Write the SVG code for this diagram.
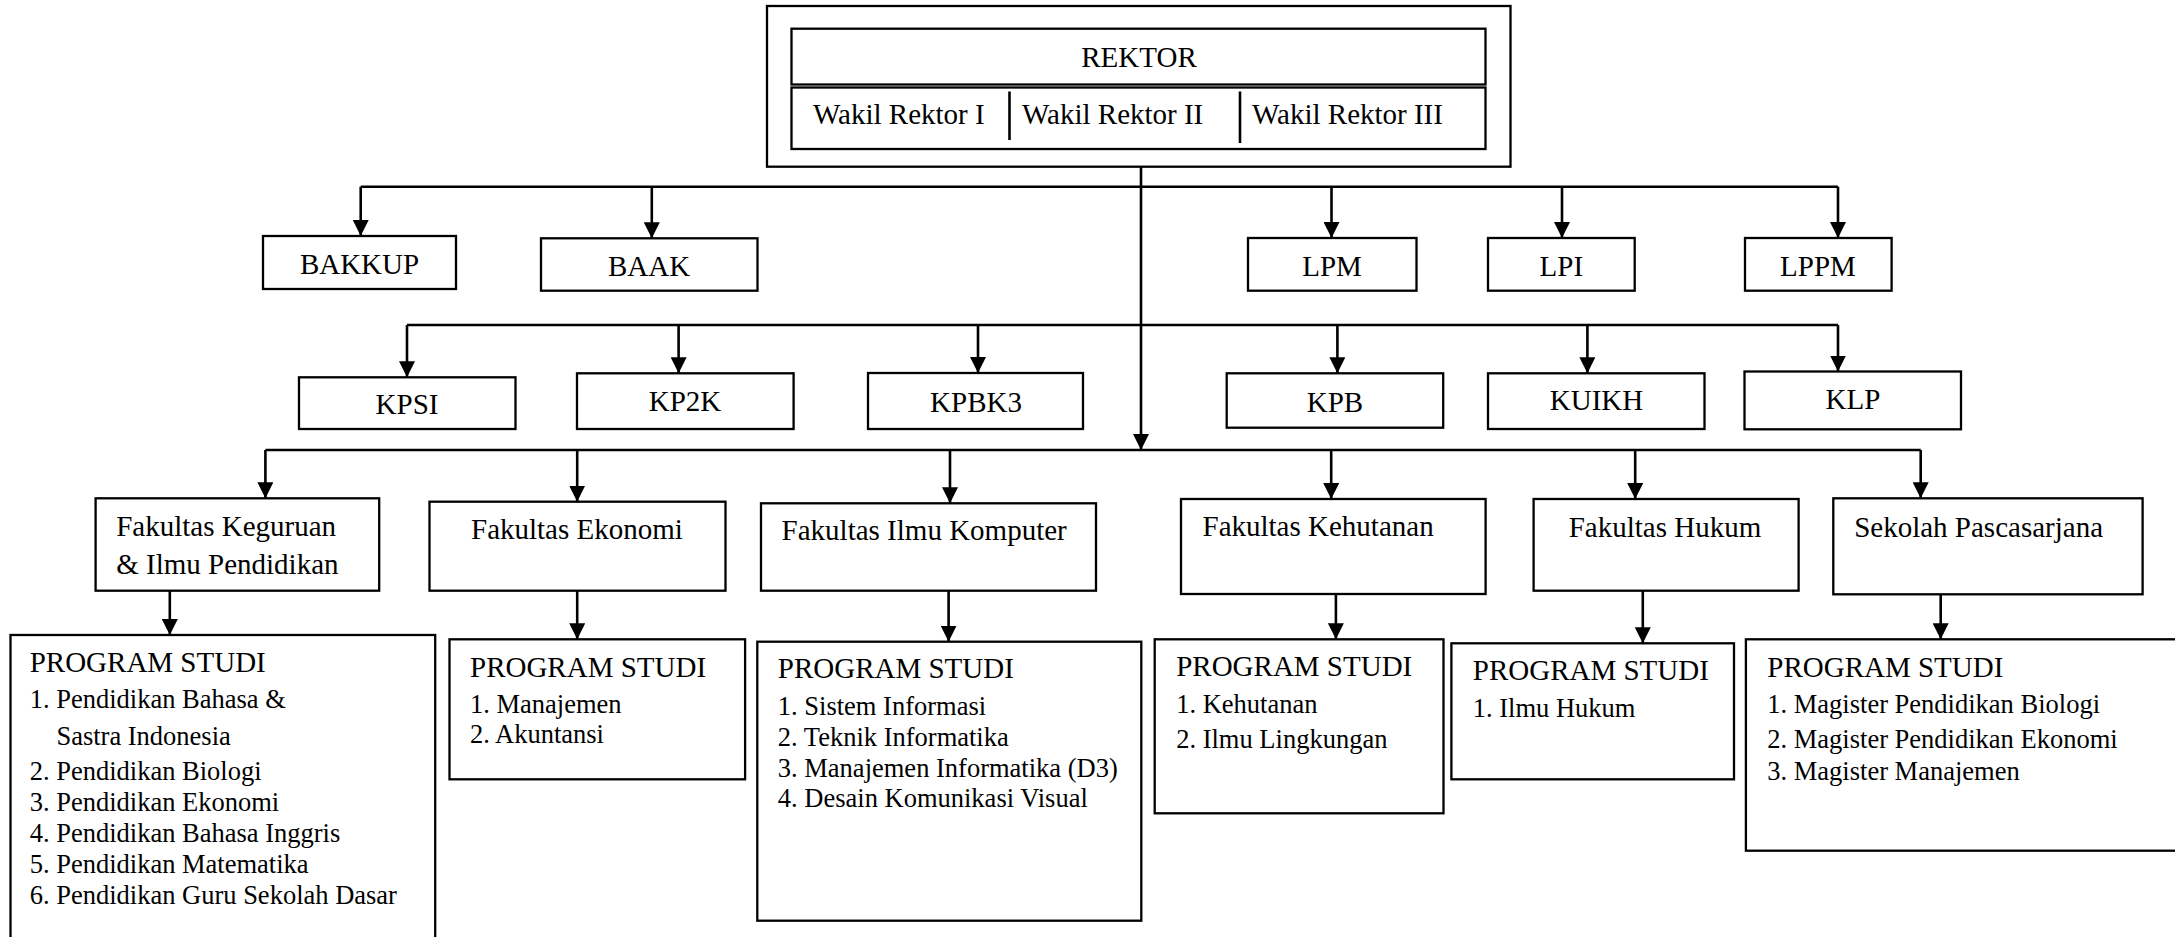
<svg xmlns="http://www.w3.org/2000/svg" width="2175" height="937" viewBox="0 0 2175 937">
<style>
.box{fill:#fff;stroke:#000;stroke-width:2.3}
.t{font-family:"Liberation Serif","Times New Roman",serif;font-size:29px;fill:#000}
.c{text-anchor:middle}
.i{font-family:"Liberation Serif","Times New Roman",serif;font-size:26.5px;fill:#000}
.ln{fill:none;stroke:#000;stroke-width:2.6}
.ar{fill:none;stroke:#000;stroke-width:2.6;marker-end:url(#ah)}
</style>
<defs>
<marker id="ah" markerUnits="userSpaceOnUse" markerWidth="16" markerHeight="16" refX="16" refY="8" orient="auto">
<path d="M0,0 L16,8 L0,16 z" fill="#000"/>
</marker>
</defs>
<rect width="2175" height="937" fill="#fff"/>

<g id="connectors">
<path class="ln" d="M360.7,186.7 H1838"/>
<path class="ln" d="M407,325 H1838"/>
<path class="ln" d="M265.4,450 H1920.7"/>
<path class="ar" d="M1141,166.7 V450"/>
<path class="ar" d="M360.7,186.7 V236"/>
<path class="ar" d="M651.8,186.7 V238.3"/>
<path class="ar" d="M1331.5,186.7 V238"/>
<path class="ar" d="M1562,186.7 V238"/>
<path class="ar" d="M1838,186.7 V238"/>
<path class="ar" d="M407,325 V377.3"/>
<path class="ar" d="M678.6,325 V373.3"/>
<path class="ar" d="M978,325 V373"/>
<path class="ar" d="M1337.4,325 V373.3"/>
<path class="ar" d="M1587.4,325 V373.3"/>
<path class="ar" d="M1838,325 V371.5"/>
<path class="ar" d="M265.4,450 V498.3"/>
<path class="ar" d="M577.2,450 V501.7"/>
<path class="ar" d="M950,450 V503.3"/>
<path class="ar" d="M1331.2,450 V499"/>
<path class="ar" d="M1635.2,450 V499"/>
<path class="ar" d="M1920.7,450 V498.3"/>
<path class="ar" d="M169.8,590.7 V635"/>
<path class="ar" d="M577.2,590.7 V639.3"/>
<path class="ar" d="M948.6,590.7 V641.7"/>
<path class="ar" d="M1335.9,594 V639.3"/>
<path class="ar" d="M1642.8,590.7 V643.3"/>
<path class="ar" d="M1940.7,594.3 V639.3"/>
</g>

<g id="rektor">
<rect class="box" x="767" y="6" width="743.5" height="160.7"/>
<rect class="box" x="791.5" y="28.7" width="694" height="55.8"/>
<rect class="box" x="791.5" y="87.5" width="694" height="61.5"/>
<path class="ln" d="M1009.5,91.5 V140 M1240,91.5 V143"/>
<text class="t c" x="1139" y="66.7">REKTOR</text>
<text class="t" x="813" y="124">Wakil Rektor I</text>
<text class="t" x="1022" y="124">Wakil Rektor II</text>
<text class="t" x="1252" y="124">Wakil Rektor III</text>
</g>

<g id="bakkup"><rect class="box" x="263" y="236" width="193" height="53"/><text class="t c" x="359.5" y="274">BAKKUP</text></g>
<g id="baak"><rect class="box" x="541" y="238.3" width="216.5" height="52.4"/><text class="t c" x="649" y="276">BAAK</text></g>
<g id="lpm"><rect class="box" x="1248" y="238" width="168.5" height="52.7"/><text class="t c" x="1332" y="276">LPM</text></g>
<g id="lpi"><rect class="box" x="1488" y="238" width="146.7" height="52.7"/><text class="t c" x="1561.3" y="276">LPI</text></g>
<g id="lppm"><rect class="box" x="1745" y="238" width="146.6" height="52.7"/><text class="t c" x="1818" y="276">LPPM</text></g>

<g id="kpsi"><rect class="box" x="299" y="377.3" width="216.5" height="51.7"/><text class="t c" x="407" y="414">KPSI</text></g>
<g id="kp2k"><rect class="box" x="577" y="373.3" width="216.6" height="55.7"/><text class="t c" x="685" y="410.7">KP2K</text></g>
<g id="kpbk3"><rect class="box" x="868" y="373" width="215" height="56"/><text class="t c" x="976" y="412">KPBK3</text></g>
<g id="kpb"><rect class="box" x="1226.7" y="373.3" width="216.5" height="54.4"/><text class="t c" x="1335" y="411.7">KPB</text></g>
<g id="kuikh"><rect class="box" x="1488" y="373.3" width="216.5" height="55.7"/><text class="t c" x="1596.5" y="410">KUIKH</text></g>
<g id="klp"><rect class="box" x="1744.5" y="371.5" width="216.5" height="57.8"/><text class="t c" x="1853" y="409.3">KLP</text></g>

<g id="fkip"><rect class="box" x="95.6" y="498.3" width="283.6" height="92.4"/><text class="t" x="116.2" y="536">Fakultas Keguruan</text><text class="t" x="116.2" y="574">&amp; Ilmu Pendidikan</text></g>
<g id="fe"><rect class="box" x="429.5" y="501.7" width="296" height="89"/><text class="t" x="471" y="539.3">Fakultas Ekonomi</text></g>
<g id="fik"><rect class="box" x="761" y="503.3" width="335" height="87.4"/><text class="t" x="781.6" y="540">Fakultas Ilmu Komputer</text></g>
<g id="fkeh"><rect class="box" x="1181" y="499" width="304.6" height="95"/><text class="t" x="1202.5" y="536">Fakultas Kehutanan</text></g>
<g id="fh"><rect class="box" x="1533.6" y="499" width="265" height="91.7"/><text class="t" x="1568.7" y="536.7">Fakultas Hukum</text></g>
<g id="sps"><rect class="box" x="1833.3" y="498.3" width="309.3" height="96"/><text class="t" x="1854.2" y="536.7">Sekolah Pascasarjana</text></g>

<g id="ps-fkip"><rect class="box" x="10.5" y="635" width="424.7" height="320"/>
<text class="t" x="29.7" y="671.7">PROGRAM STUDI</text>
<text class="i" x="29.7" y="708.3">1. Pendidikan Bahasa &amp;</text>
<text class="i" x="56.4" y="745">Sastra Indonesia</text>
<text class="i" x="29.7" y="780">2. Pendidikan Biologi</text>
<text class="i" x="29.7" y="811">3. Pendidikan Ekonomi</text>
<text class="i" x="29.7" y="842.3">4. Pendidikan Bahasa Inggris</text>
<text class="i" x="29.7" y="873.3">5. Pendidikan Matematika</text>
<text class="i" x="29.7" y="904">6. Pendidikan Guru Sekolah Dasar</text>
</g>
<g id="ps-fe"><rect class="box" x="449.5" y="639.3" width="295.6" height="140"/>
<text class="t" x="470" y="676.7">PROGRAM STUDI</text>
<text class="i" x="470" y="713.3">1. Manajemen</text>
<text class="i" x="470" y="743.3">2. Akuntansi</text>
</g>
<g id="ps-fik"><rect class="box" x="757.3" y="641.7" width="384" height="279"/>
<text class="t" x="777.8" y="678.3">PROGRAM STUDI</text>
<text class="i" x="777.8" y="715">1. Sistem Informasi</text>
<text class="i" x="777.8" y="746">2. Teknik Informatika</text>
<text class="i" x="777.8" y="776.7">3. Manajemen Informatika (D3)</text>
<text class="i" x="777.8" y="807.3">4. Desain Komunikasi Visual</text>
</g>
<g id="ps-fkeh"><rect class="box" x="1154.7" y="639.3" width="288.8" height="174"/>
<text class="t" x="1176.2" y="676">PROGRAM STUDI</text>
<text class="i" x="1176.2" y="712.7">1. Kehutanan</text>
<text class="i" x="1176.2" y="748.3">2. Ilmu Lingkungan</text>
</g>
<g id="ps-fh"><rect class="box" x="1451.4" y="643.3" width="282.6" height="136"/>
<text class="t" x="1472.8" y="680">PROGRAM STUDI</text>
<text class="i" x="1472.8" y="717.3">1. Ilmu Hukum</text>
</g>
<g id="ps-sps"><rect class="box" x="1745.9" y="639.3" width="440" height="211.4"/>
<text class="t" x="1767.3" y="676.7">PROGRAM STUDI</text>
<text class="i" x="1767.3" y="712.7">1. Magister Pendidikan Biologi</text>
<text class="i" x="1767.3" y="748.3">2. Magister Pendidikan Ekonomi</text>
<text class="i" x="1767.3" y="780">3. Magister Manajemen</text>
</g>
</svg>
